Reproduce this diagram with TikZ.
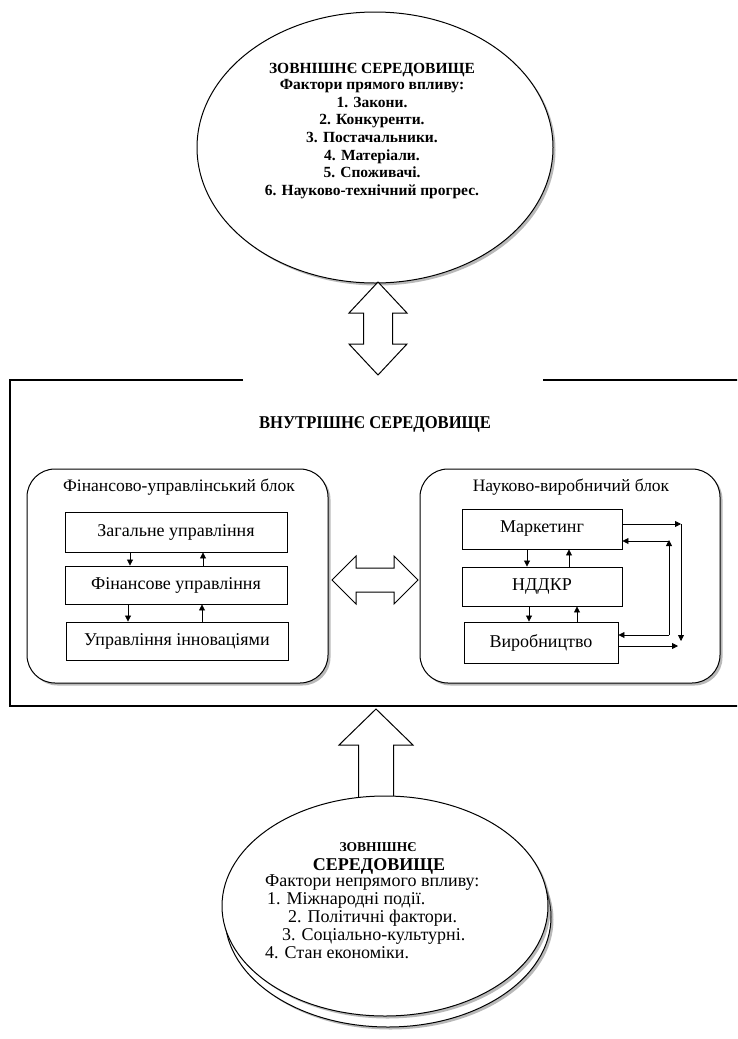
\documentclass[tikz,border=0pt]{standalone}
\usepackage{fontspec}
\setmainfont{Liberation Serif}
\newfontfamily\narrowserif[FakeStretch=0.92]{Liberation Serif}
\usetikzlibrary{shapes.geometric,arrows.meta,shadows}
\begin{document}
\begin{tikzpicture}[x=1pt,y=-1pt,
  shad/.style={drop shadow={shadow xshift=2.5pt,shadow yshift=-2.5pt,fill=black!50,opacity=0.55}},
  blk/.style={draw,line width=1pt,fill=white,rounded corners=28pt,shad},
  ibox/.style={draw,line width=0.9pt,fill=white,inner sep=0pt,font=\fontsize{18}{21}\selectfont},
  ttl/.style={inner sep=0pt,font=\fontsize{17.5}{20}\selectfont},
  sa/.style={-{Triangle[length=6pt,width=6pt]},line width=0.8pt},
  barrow/.style={draw,line width=1pt,fill=white,line join=miter},
  oval/.style={ellipse,draw,line width=1pt,fill=white,inner sep=0pt,shad},
  btxt/.style={inner sep=0pt,anchor=base west,font=\fontsize{18}{19}\selectfont}
]
\useasboundingbox (0,0) rectangle (737,1039);
\clip (0,0) rectangle (737,1039);

% top ellipse
\node[oval,minimum width=356pt,minimum height=271pt] (top) at (375,147.5) {};
\node[inner sep=0pt,align=center,font=\bfseries\fontsize{15.5}{17.7}\selectfont] (toptxt) at (372,131)
  {ЗОВНІШНЄ СЕРЕДОВИЩЕ\\[-1.5pt] Фактори прямого впливу:\\ 1. Закони.\\ 2. Конкуренти.\\ 3. Постачальники.\\ 4. Матеріали.\\ 5. Споживачі.\\ 6. Науково-технічний прогрес.};

% top double arrow
\draw[barrow] (378,282) -- (407,313) -- (392.5,313) -- (392.5,344) -- (407,344) -- (378,375)
  -- (349,344) -- (363.5,344) -- (363.5,313) -- (349,313) -- cycle;

% bottom up arrow
\draw[barrow] (376,709) -- (413,745) -- (393.5,745) -- (393.5,830) -- (358.5,830) -- (358.5,745) -- (339,745) -- cycle;

% internal environment frame
\draw[line width=1.2pt] (243,380) -- (10,380) -- (10,706) -- (745,706);
\draw[line width=1.2pt] (543,380) -- (745,380);
\node[inner sep=0pt,font=\narrowserif\bfseries\fontsize{18}{21}\selectfont] (inner) at (375,424) {ВНУТРІШНЄ СЕРЕДОВИЩЕ};

% blocks
\node[blk,minimum width=301pt,minimum height=214pt] (lb) at (177.5,576) {};
\node[blk,minimum width=300pt,minimum height=214pt] (rb) at (570,576) {};
\node[ttl] (lbt) at (179,487) {Фінансово-управлінський блок};
\node[ttl] (rbt) at (571,487) {Науково-виробничий блок};

% left inner boxes
\node[ibox,minimum width=222pt,minimum height=40pt] (z) at (176,532) {Загальне управління};
\node[ibox,minimum width=222pt,minimum height=38pt] (f) at (176,585) {Фінансове управління};
\node[ibox,minimum width=222pt,minimum height=38pt] (u) at (177,641) {Управління інноваціями};

% right inner boxes
\node[ibox,minimum width=160pt,minimum height=40pt] (m) at (542,529) {Маркетинг};
\node[ibox,minimum width=160pt,minimum height=39pt] (n) at (542,586.5) {НДДКР};
\node[ibox,minimum width=154pt,minimum height=41pt] (v) at (541,642.5) {Виробництво};

% small arrows left
\draw[sa] ([xshift=-46pt]z.south) -- ([xshift=-46pt]f.north);
\draw[sa] ([xshift=27pt]f.north) -- ([xshift=27pt]z.south);
\draw[sa] ([xshift=-48pt]f.south) -- ([xshift=-48pt]f.south |- u.north);
\draw[sa] ([xshift=26pt]f.south |- u.north) -- ([xshift=26pt]f.south);

% small arrows right
\draw[sa] ([xshift=-15pt]m.south) -- ([xshift=-15pt]n.north);
\draw[sa] ([xshift=27pt]n.north) -- ([xshift=27pt]m.south);
\draw[sa] ([xshift=-13pt]n.south) -- ([xshift=-13pt]n.south |- v.north);
\draw[sa] ([xshift=35pt]n.south |- v.north) -- ([xshift=35pt]n.south);

% right loops
\coordinate (o1) at (681,524);
\coordinate (o2) at (681,641);
\coordinate (i1) at (669,541);
\coordinate (i2) at (669,635);
\draw[sa] ([yshift=5pt]m.east) -- (o1);
\draw[sa] (o1) -- (o2);
\draw[sa] ([yshift=-3.5pt]v.east) -- (678,646);
\draw[sa] (i1) -- ([yshift=-12pt]m.east);
\draw[sa] (i2) -- ([yshift=1pt]i1);
\draw[sa] (i2) -- ([yshift=7.5pt]v.east);

% middle double arrow
\draw[barrow] (332,580) -- (356,556) -- (356,568) -- (394,568) -- (394,556) -- (418,580)
  -- (394,604) -- (394,592) -- (356,592) -- (356,604) -- cycle;

% bottom ellipses
\node[oval,minimum width=326pt,minimum height=220pt] (bback) at (388,917) {};
\node[oval,minimum width=326pt,minimum height=220pt] (bfront) at (385,906) {};
\node[inner sep=0pt,anchor=base,font=\bfseries\fontsize{13.5}{16}\selectfont] (b1) at (378,851) {ЗОВНІШНЄ};
\node[inner sep=0pt,anchor=base,font=\bfseries\fontsize{18}{22}\selectfont] (b2) at (379,870) {СЕРЕДОВИЩЕ};
\node[btxt] (b3) at (265,886) {Фактори непрямого впливу:};
\node[btxt] (b4) at (267,904) {1. Міжнародні події.};
\node[btxt] (b5) at (288,922) {2. Політичні фактори.};
\node[btxt] (b6) at (282,940) {3. Соціально-культурні.};
\node[btxt] (b7) at (265,958) {4. Стан економіки.};
\end{tikzpicture}
\end{document}
